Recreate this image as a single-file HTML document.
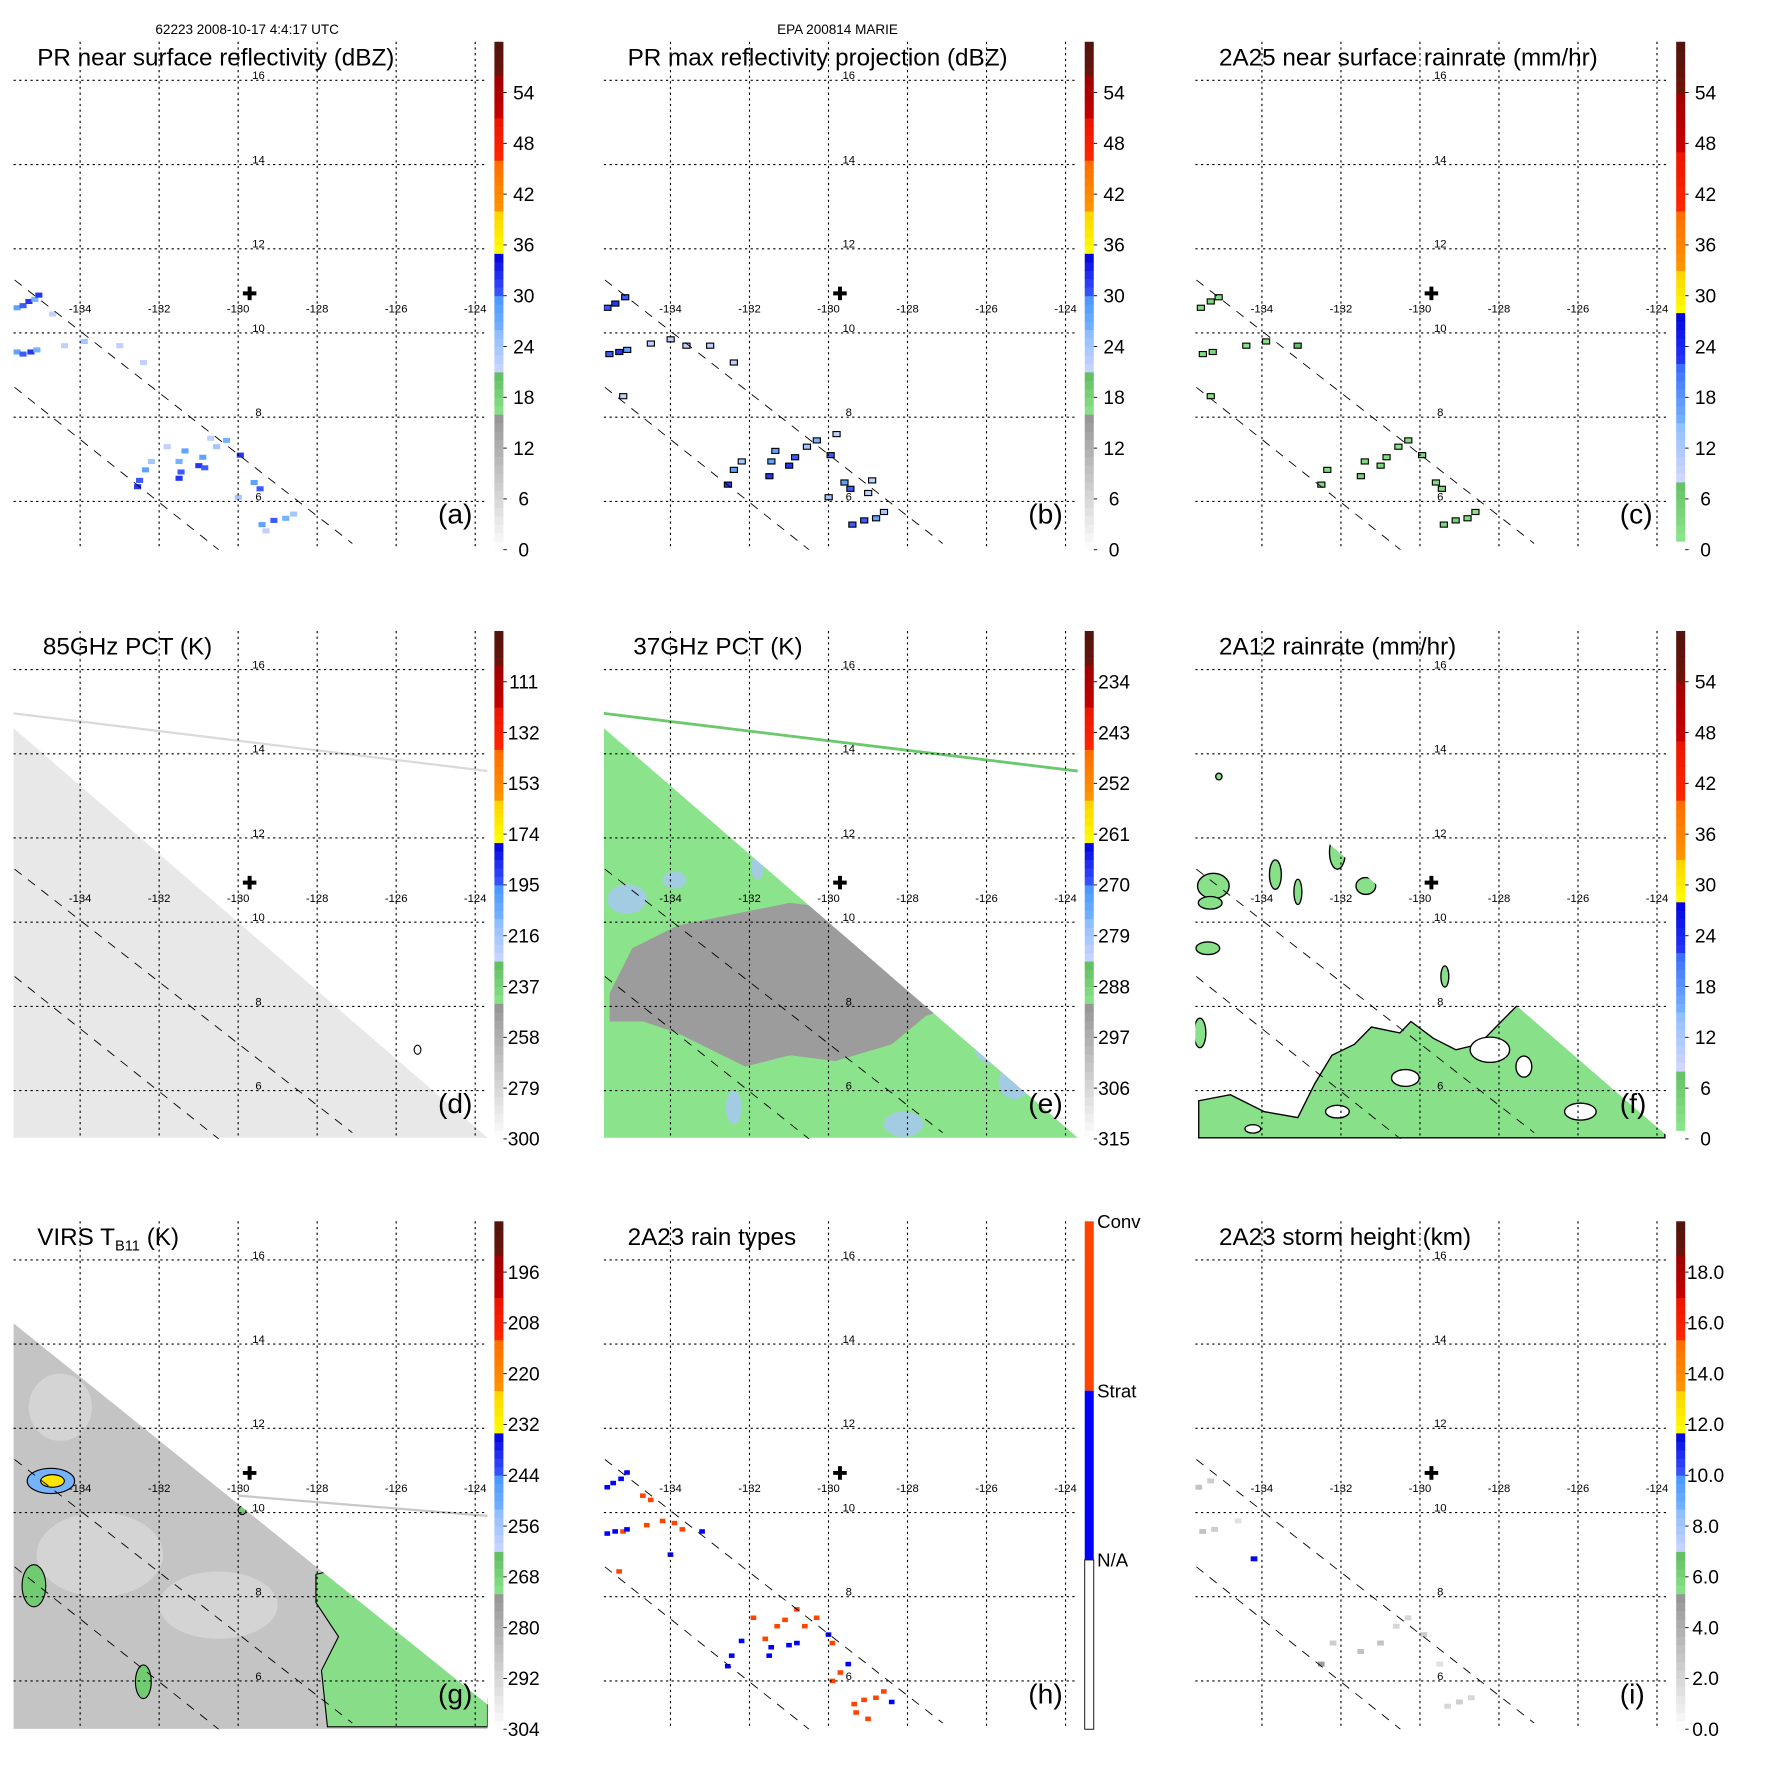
<!DOCTYPE html>
<html><head><meta charset="utf-8"><title>TRMM overpass panels</title>
<style>
html,body{margin:0;padding:0;background:#fff;}
svg{display:block;font-family:"Liberation Sans",Arial,sans-serif;}
</style></head>
<body>
<svg id="fig" xmlns="http://www.w3.org/2000/svg" width="1771" height="1771" viewBox="0 0 1569 1569">
<rect x="0" y="0" width="1569" height="1569" fill="#fff"/>
<text x="219" y="30" font-size="12" text-anchor="middle">62223 2008-10-17 4:4:17 UTC</text>
<text x="742" y="30" font-size="12" text-anchor="middle">EPA 200814 MARIE</text>
</svg>
<script>
// ---------- data ----------
const lonTicks = [-134, -132, -130, -128, -126, -124];
const latTicks = [16, 14, 12, 10, 8, 6];
const lonLabels = ["-134", "-132", "-130", "-128", "-126", "-124"];
const latLabels = ["16", "14", "12", "10", "8", "6"];
const centerLon = -129.71;
const centerLat = 10.94;
const swathLine1 = [[-135.66, 11.26], [-127.11, 5.0]];
const swathLine2 = [[-135.66, 8.71], [-130.49, 4.85]];
const titles = ["PR near surface reflectivity (dBZ)", "PR max reflectivity projection (dBZ)", "2A25 near surface rainrate (mm/hr)", "85GHz PCT (K)", "37GHz PCT (K)", "2A12 rainrate (mm/hr)", "VIRS T_B11 (K)", "2A23 rain types", "2A23 storm height (km)"];
const letters = ["(a)", "(b)", "(c)", "(d)", "(e)", "(f)", "(g)", "(h)", "(i)"];
const cbLabelsA = ["0", "6", "12", "18", "24", "30", "36", "42", "48", "54"];
const cbLabelsC = ["0", "6", "12", "18", "24", "30", "36", "42", "48", "54"];
const cbLabelsD = ["300", "279", "258", "237", "216", "195", "174", "153", "132", "111"];
const cbLabelsE = ["315", "306", "297", "288", "279", "270", "261", "252", "243", "234"];
const cbLabelsG = ["304", "292", "280", "268", "256", "244", "232", "220", "208", "196"];
const cbLabelsI = ["0.0", "2.0", "4.0", "6.0", "8.0", "10.0", "12.0", "14.0", "16.0", "18.0"];
const cbLabelsH = ["N/A", "Strat", "Conv"];
// PR near-surface reflectivity [lon, lat, dBZ]
const reflA = [[-135.6,10.6,28],[-135.45,10.65,30],[-135.3,10.75,32],[-135.15,10.8,26],[-135.05,10.9,32],[-134.7,10.45,22],
 [-135.6,9.55,28],[-135.45,9.5,30],[-135.25,9.55,32],[-135.1,9.6,26],[-134.4,9.7,22],[-133.9,9.8,24],[-133.0,9.7,22],[-132.4,9.3,22],
 [-132.55,6.35,32],[-132.5,6.5,30],[-132.35,6.75,28],[-132.2,6.95,24],[-131.5,6.55,32],[-131.45,6.7,30],[-131.5,6.95,26],[-131.35,7.2,28],
 [-131.0,6.85,32],[-130.85,6.8,30],[-130.9,7.05,28],[-130.55,7.3,24],[-130.3,7.45,26],[-129.95,7.1,32],[-129.6,6.45,28],[-129.45,6.3,30],
 [-130.0,6.1,24],[-129.4,5.45,28],[-129.1,5.55,30],[-128.8,5.6,26],[-128.6,5.7,24],[-129.3,5.3,22],[-131.8,7.3,22],[-130.7,7.5,22]];
// PR max reflectivity projection [lon, lat, dBZ]
const reflB = [[-135.6,10.6,30],[-135.4,10.7,32],[-135.15,10.85,30],[-135.55,9.5,30],[-135.3,9.55,32],[-135.1,9.6,28],[-134.5,9.75,22],
 [-134.0,9.85,22],[-133.6,9.7,22],[-133.0,9.7,22],[-132.4,9.3,22],[-135.2,8.5,22],
 [-132.55,6.4,32],[-132.4,6.75,28],[-132.2,6.95,24],[-131.5,6.6,32],[-131.45,6.95,28],[-131.35,7.2,28],[-131.0,6.85,32],[-130.85,7.05,30],
 [-130.55,7.3,24],[-130.3,7.45,26],[-129.95,7.1,30],[-129.6,6.45,28],[-129.45,6.3,30],[-130.0,6.1,24],[-129.8,7.6,22],
 [-129.4,5.45,30],[-129.1,5.55,30],[-128.8,5.6,28],[-128.6,5.75,24],[-129.0,6.2,22],[-128.9,6.5,22]];
// 2A25 near-surface rain rate [lon, lat, mm/hr]
const rainC = [[-135.55,10.6,3],[-135.3,10.75,4],[-135.1,10.85,3],[-135.5,9.5,3],[-135.25,9.55,4],[-134.4,9.7,2],[-133.9,9.8,2],[-135.3,8.5,2],
 [-132.5,6.4,4],[-132.35,6.75,3],[-131.5,6.6,5],[-131.4,6.95,3],[-131.0,6.85,4],[-130.85,7.05,3],[-130.55,7.3,2],[-130.3,7.45,3],
 [-129.95,7.1,4],[-129.6,6.45,3],[-129.45,6.3,4],[-129.4,5.45,4],[-129.1,5.55,5],[-128.8,5.6,3],[-128.6,5.75,2],[-133.1,9.7,8]];
// 2A12 rain areas: polygon [lon, lat] and blobs [lon, lat, rxDeg, ryDeg]
const rainF = [[-135.6,5.76],[-134.8,5.9],[-133.94,5.5],[-133.09,5.36],[-132.66,6.17],[-132.23,6.84],[-131.66,7.1],[-131.23,7.51],
 [-130.51,7.37],[-130.23,7.64],[-129.66,7.24],[-129.09,6.97],[-128.51,7.1],[-127.94,7.64],[-127.37,8.18],[-127.23,8.31],[-126.8,8.04],
 [-126.23,7.64],[-125.37,7.1],[-124.51,6.3],[-123.8,5.5],[-123.8,4.88],[-135.6,4.88]];
const blobsF = [[-135.23,10.86,0.4,0.3],[-135.31,10.46,0.3,0.15],[-133.66,11.13,0.15,0.35],[-133.09,10.72,0.1,0.3],[-132.09,11.66,0.2,0.4],
 [-131.37,10.86,0.25,0.2],[-135.37,9.38,0.3,0.15],[-129.37,8.71,0.1,0.25],[-135.09,13.46,0.08,0.08],[-129.71,10.05,0.06,0.08],[-135.57,7.37,0.15,0.35]];
const holesF = [[-128.23,6.97,0.5,0.3],[-130.37,6.3,0.35,0.2],[-132.09,5.5,0.3,0.15],[-125.94,5.5,0.4,0.2],[-127.37,6.57,0.2,0.25],[-134.23,5.09,0.2,0.1]];
// 37 GHz cold (scattering) region polygon [lon, lat] and light-blue patches
const coldE = [[-135.54,8.31],[-134.97,9.38],[-133.83,9.92],[-132.4,10.19],[-130.97,10.46],[-129.83,10.32],[-129.26,9.65],[-128.11,9.12],
 [-126.97,8.45],[-126.69,8.04],[-127.54,7.77],[-128.4,7.1],[-129.83,6.7],[-130.97,6.84],[-132.11,6.57],[-132.97,6.97],[-133.83,7.37],[-134.69,7.64],[-135.54,7.64]];
const patchesE = [[-135.1,10.55,0.5,0.35],[-133.9,11.0,0.3,0.2],[-131.8,11.3,0.15,0.3],[-125.7,7.0,0.6,0.4],[-125.3,6.2,0.4,0.4],[-132.4,5.6,0.2,0.4],[-128.1,5.2,0.5,0.3]];
// swath edge [lon, lat]
const swathEdgePMW = [[-135.69,14.61],[-123.69,4.88],[-135.69,4.88]];
const swathEdgeVIRS = [[-135.69,14.5],[-123.69,5.44],[-123.69,4.86],[-135.69,4.86]];
const lineD = [[-135.69,14.96],[-123.69,13.59]];
const lineG = [[-130.0,10.4],[-123.69,9.92]];
// VIRS cold cloud areas
const greenG = [[-128.03,8.53],[-127.46,8.66],[-126.6,8.12],[-125.74,7.32],[-124.74,6.51],[-123.69,5.58],[-123.69,4.91],[-127.74,4.91],[-127.89,6.25],[-127.46,7.05],[-128.03,7.86]];
const blobsG = [[-134.74,10.75,0.6,0.3,252],[-134.7,10.75,0.3,0.15,228],[-135.17,8.26,0.3,0.5,266],[-132.4,5.98,0.2,0.4,266],[-131.8,12.0,0.08,0.15,266],[-129.9,10.05,0.1,0.1,266]];
const lightG = [[-133.5,9.0,1.6,1.0],[-130.5,7.8,1.5,0.8],[-134.5,12.5,0.8,0.8]];
// 2A23 rain type [lon, lat, type] 1=strat 2=conv
const typeH = [[-135.6,10.6,1],[-135.45,10.7,1],[-135.25,10.8,1],[-135.1,10.95,1],[-134.7,10.4,2],[-134.5,10.3,2],
 [-135.6,9.5,1],[-135.4,9.55,1],[-135.2,9.55,2],[-135.1,9.6,1],[-134.6,9.7,2],[-134.2,9.8,2],[-133.9,9.75,2],[-133.7,9.6,2],[-133.2,9.55,1],[-134.0,9.0,1],[-135.3,8.6,2],
 [-132.55,6.35,1],[-132.45,6.6,1],[-132.2,6.95,1],[-131.5,6.6,1],[-131.45,6.8,1],[-131.0,6.85,1],[-130.8,6.9,1],[-131.6,7.0,2],[-131.3,7.3,2],
 [-131.1,7.45,2],[-130.6,7.3,2],[-130.3,7.5,2],[-130.0,7.1,1],[-129.9,6.9,2],[-131.9,7.5,2],[-130.8,7.7,2],[-129.5,6.4,1],[-129.7,6.2,2],
 [-129.9,6.0,2],[-129.35,5.45,2],[-129.1,5.55,2],[-128.8,5.6,2],[-128.6,5.75,2],[-129.3,5.25,2],[-129.0,5.1,2],[-128.4,5.5,1]];
// 2A23 storm height [lon, lat, km]
const heightI = [[-135.6,10.6,3],[-135.3,10.75,2.5],[-135.5,9.55,3],[-135.2,9.6,2.5],[-134.6,9.8,1.5],[-134.2,8.9,11.5],
 [-132.5,6.4,5],[-132.2,6.9,2.5],[-131.5,6.7,3],[-131.0,6.9,3],[-130.6,7.3,2],[-130.3,7.5,2],[-129.9,7.1,2.5],[-129.5,6.4,1.5],
 [-129.3,5.4,2],[-129.0,5.5,2.5],[-128.7,5.6,2]];
const scatterD = [[-125.46,6.97]];

// ---------- geometry / axes ----------
const COLS = [0, 523, 1047], ROWS = [0, 522, 1045];
function X(p, lon) { return COLS[p % 3] + 211 + (lon + 130) * 35; }
function Y(p, lat) { return ROWS[Math.floor(p / 3)] + 295 - (lat - 10) * 37.3; }
function degW(d) { return d * 35; }
function degH(d) { return d * 37.3; }
const svg = document.getElementById('fig');
const NS = 'http://www.w3.org/2000/svg';
function el(tag, attrs, parent, name) {
  const e = document.createElementNS(NS, tag);
  for (const k in attrs) e.setAttribute(k, attrs[k]);
  
  
  (parent || svg).appendChild(e);
  return e;
}
function lerp(a, b, t) { return Math.round(a + (b - a) * t); }
function mix(c1, c2, t) { return 'rgb(' + lerp(c1[0], c2[0], t) + ',' + lerp(c1[1], c2[1], t) + ',' + lerp(c1[2], c2[2], t) + ')'; }
const STD = [[0, 0.262, [255,255,255], [150,150,150]], [0.262, 0.344, [140,230,140], [100,190,100]], [0.344, 0.43, [210,215,255], [140,190,255]],
 [0.43, 0.5, [120,180,255], [70,150,255]], [0.5, 0.584, [60,90,255], [0,0,220]], [0.584, 0.669, [255,255,0], [255,208,0]], [0.669, 0.764, [255,150,0], [255,110,0]],
 [0.764, 0.849, [255,40,0], [235,20,0]], [0.849, 0.927, [200,0,0], [160,0,0]], [0.927, 1.001, [110,20,10], [80,20,15]]];
const RR = [[0, 0.02, [255,255,255], [255,255,255]], [0.02, 0.138, [140,230,140], [100,190,100]], [0.138, 0.25, [210,215,255], [140,190,255]],
 [0.25, 0.36, [120,180,255], [60,110,255]], [0.36, 0.47, [40,60,250], [0,0,220]], [0.47, 0.55, [255,255,0], [255,208,0]], [0.55, 0.66, [255,150,0], [255,110,0]],
 [0.66, 0.79, [255,40,0], [235,20,0]], [0.79, 0.9, [200,0,0], [160,0,0]], [0.9, 1.001, [110,20,10], [80,20,15]]];
function pal(P, f) {
  f = Math.max(0, Math.min(1, f));
  for (const s of P) if (f >= s[0] && f < s[1]) return mix(s[2], s[3], (f - s[0]) / (s[1] - s[0]));
  return 'rgb(80,20,15)';
}
const RANGES = [[0,60,STD],[0,60,STD],[0,60,RR],[300,90,STD],[315,225,STD],[0,60,RR],[304,184,STD],null,[0,20,STD]];
function colorFor(p, v) { const r = RANGES[p]; return pal(r[2], (v - r[0]) / (r[1] - r[0])); }
function poly(p, pts) { return pts.map(q => X(p, q[0]).toFixed(1) + ',' + Y(p, q[1]).toFixed(1)).join(' '); }

const cbLabelSets = [cbLabelsA, cbLabelsA, cbLabelsC, cbLabelsD, cbLabelsE, cbLabelsC, cbLabelsG, null, cbLabelsI];

for (let p = 0; p < 9; p++) {
  const ox = COLS[p % 3], oy = ROWS[Math.floor(p / 3)];
  const g = el('g', {}, svg, 'panel-' + letters[p].replace(/[()]/g, ''));
  const clip = el('clipPath', { id: 'clip' + p }, g, 'map-clip');
  el('rect', { x: ox + 12, y: oy + 37, width: 420, height: 450 }, clip, 'map-clip-rect');
  const map = el('g', { 'clip-path': 'url(#clip' + p + ')' }, g, 'map-area');

  if (p === 3) {
    el('polygon', { points: poly(p, swathEdgePMW), fill: '#e8e8e8' }, map, 'pct85-swath');
    el('line', { x1: X(p, lineD[0][0]), y1: Y(p, lineD[0][1]), x2: X(p, lineD[1][0]), y2: Y(p, lineD[1][1]), stroke: '#dadada', 'stroke-width': 2 }, map, 'pr-swath-edge-line');
    for (const s of scatterD) el('ellipse', { cx: X(p, s[0]), cy: Y(p, s[1]), rx: 3, ry: 4, fill: 'none', stroke: '#000', 'stroke-width': 1 }, map, 'cold-contour');
  }
  if (p === 4) {
    el('polygon', { points: poly(p, swathEdgePMW), fill: '#8be48b' }, map, 'pct37-swath');
    el('polygon', { points: poly(p, coldE), fill: '#9c9c9c' }, map, 'pct37-cold-region');
    for (const b of patchesE) el('ellipse', { cx: X(p, b[0]), cy: Y(p, b[1]), rx: degW(b[2]), ry: degH(b[3]), fill: '#a8c4ff', opacity: 0.75 }, map, 'pct37-patch');
    el('polygon', { points: poly(p, [[-135.69,14.61],[-123.69,4.88],[-123.69,14.61]]), fill: '#fff' }, map, 'swath-mask');
    el('line', { x1: X(p, lineD[0][0]), y1: Y(p, lineD[0][1]), x2: X(p, lineD[1][0]), y2: Y(p, lineD[1][1]), stroke: '#6cc86c', 'stroke-width': 2.5 }, map, 'pr-swath-edge-line');
  }
  if (p === 6) {
    el('polygon', { points: poly(p, swathEdgeVIRS), fill: '#c4c4c4' }, map, 'virs-swath');
    for (const b of lightG) el('ellipse', { cx: X(p, b[0]), cy: Y(p, b[1]), rx: degW(b[2]), ry: degH(b[3]), fill: '#d4d4d4' }, map, 'virs-warm-area');
    el('polygon', { points: poly(p, greenG), fill: '#88de88', stroke: '#000', 'stroke-width': 1 }, map, 'virs-cold-region');
    for (const b of blobsG) el('ellipse', { cx: X(p, b[0]), cy: Y(p, b[1]), rx: degW(b[2]), ry: degH(b[3]), fill: colorFor(p, b[4]), stroke: '#000', 'stroke-width': 1 }, map, 'virs-cold-cloud');
    el('polygon', { points: poly(p, [[-135.69,14.5],[-123.69,5.44],[-123.69,14.5]]), fill: '#fff' }, map, 'swath-mask');
    el('line', { x1: X(p, lineG[0][0]), y1: Y(p, lineG[0][1]), x2: X(p, lineG[1][0]), y2: Y(p, lineG[1][1]), stroke: '#c8c8c8', 'stroke-width': 2 }, map, 'pr-swath-edge-line');
  }
  if (p === 5) {
    el('polygon', { points: poly(p, rainF), fill: '#88e088', stroke: '#000', 'stroke-width': 1.2 }, map, 'rain-region');
    for (const b of blobsF) el('ellipse', { cx: X(p, b[0]), cy: Y(p, b[1]), rx: degW(b[2]), ry: degH(b[3]), fill: '#88e088', stroke: '#000', 'stroke-width': 1.2 }, map, 'rain-blob');
    for (const b of holesF) el('ellipse', { cx: X(p, b[0]), cy: Y(p, b[1]), rx: degW(b[2]), ry: degH(b[3]), fill: '#fff', stroke: '#000', 'stroke-width': 1.2 }, map, 'rain-gap');
    el('polygon', { points: poly(p, [[-135.69,14.61],[-123.69,4.88],[-123.69,14.61]]), fill: '#fff' }, map, 'swath-mask');
  }
  if (p === 0 || p === 1 || p === 2) {
    const arr = p === 0 ? reflA : (p === 1 ? reflB : rainC);
    for (const d of arr) {
      el('rect', { x: X(p, d[0]) - 3, y: Y(p, d[1]) - 2.2, width: 6.3, height: 4.5, fill: colorFor(p, d[2]),
        stroke: p === 0 ? 'none' : '#000', 'stroke-width': 1 }, map, 'rain-pixel');
    }
  }
  if (p === 7) {
    for (const d of typeH) el('rect', { x: X(p, d[0]) - 2.5, y: Y(p, d[1]) - 2, width: 5, height: 4, fill: d[2] === 1 ? '#0000ff' : '#ff4400' }, map, 'rain-type-pixel');
  }
  if (p === 8) {
    for (const d of heightI) el('rect', { x: X(p, d[0]) - 3, y: Y(p, d[1]) - 2.2, width: 6, height: 4.4, fill: colorFor(p, d[2]) }, map, 'storm-height-pixel');
  }

  for (const L of [swathLine1, swathLine2]) {
    el('line', { x1: X(p, L[0][0]), y1: Y(p, L[0][1]), x2: X(p, L[1][0]), y2: Y(p, L[1][1]), stroke: '#000', 'stroke-width': 0.8, 'stroke-dasharray': '8,7' }, map, 'pr-swath-boundary');
  }

  for (let i = 0; i < lonTicks.length; i++) {
    const x = X(p, lonTicks[i]);
    el('line', { x1: x, y1: oy + 37, x2: x, y2: oy + 487, stroke: '#000', 'stroke-width': 1, 'stroke-dasharray': '2,3' }, g, 'meridian');
    el('text', { x: x, y: oy + 277, 'font-size': 10, 'text-anchor': 'middle' }, g, 'lon-label').textContent = lonLabels[i];
  }
  for (let i = 0; i < latTicks.length; i++) {
    const y = Y(p, latTicks[i]);
    el('line', { x1: ox + 12, y1: y, x2: ox + 432, y2: y, stroke: '#000', 'stroke-width': 1, 'stroke-dasharray': '2,3' }, g, 'parallel');
    el('text', { x: ox + 229, y: y - 1, 'font-size': 10, 'text-anchor': 'middle' }, g, 'lat-label').textContent = latLabels[i];
  }
  const cx = X(p, centerLon), cy = Y(p, centerLat);
  el('path', { d: 'M' + (cx - 6) + ',' + cy + 'h12M' + cx + ',' + (cy - 6) + 'v12', stroke: '#000', 'stroke-width': 3.5 }, g, 'storm-center-marker');

  const t = el('text', { x: ox + 33 + (p === 3 || p === 4 ? 5 : 0), y: oy + 58, 'font-size': 21.5 }, g, 'panel-title');
  if (p === 6) {
    t.textContent = 'VIRS T';
    const s = el('tspan', { 'font-size': 13, dy: 5 }, t, 'title-subscript');
    s.textContent = 'B11';
    const r = el('tspan', { dy: -5 }, t, 'title-units');
    r.textContent = ' (K)';
  } else t.textContent = titles[p];
  el('text', { x: ox + 388, y: oy + 464, 'font-size': 25 }, g, 'panel-letter').textContent = letters[p];

  const cb = el('g', {}, g, 'colorbar');
  if (p === 7) {
    el('rect', { x: ox + 438, y: oy + 337, width: 8, height: 150, fill: '#fff', stroke: '#000', 'stroke-width': 0.8 }, cb, 'colorbar-na');
    el('rect', { x: ox + 438, y: oy + 187, width: 8, height: 150, fill: '#0000ff' }, cb, 'colorbar-strat');
    el('rect', { x: ox + 438, y: oy + 37, width: 8, height: 150, fill: '#ff4400' }, cb, 'colorbar-conv');
    for (let i = 0; i < cbLabelsH.length; i++) el('text', { x: ox + 449, y: oy + 343 - i * 150, 'font-size': 16.5 }, cb, 'colorbar-label').textContent = cbLabelsH[i];
  } else {
    const P = RANGES[p][2];
    const N = 60;
    for (let k = 0; k < N; k++) {
      const f = (k + 0.5) / N;
      el('rect', { x: ox + 438, y: oy + 487 - (k + 1) * 450 / N, width: 8, height: 450 / N + 0.4, fill: pal(P, f) }, cb, 'colorbar-step');
    }
    const labs = cbLabelSets[p];
    for (let i = 0; i < labs.length; i++) {
      const y = oy + 487 - i * 45;
      el('line', { x1: ox + 446, y1: y, x2: ox + 449, y2: y, stroke: '#000', 'stroke-width': 0.8 }, cb, 'colorbar-tick');
      el('text', { x: ox + 464, y: y + 6, 'font-size': 17, 'text-anchor': 'middle' }, cb, 'colorbar-label').textContent = labs[i];
    }
  }
}
</script>
</body></html>
